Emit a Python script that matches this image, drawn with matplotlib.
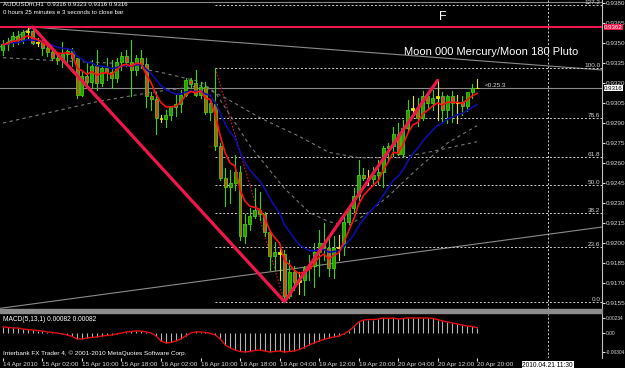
import numpy as np
import pandas as pd
import matplotlib
matplotlib.use("Agg")
import matplotlib.pyplot as plt
from matplotlib.patches import Rectangle

plt.rcParams["font.family"] = ["Liberation Sans", "DejaVu Sans"]

# AUDUSDm H1, one bar per hour from 14 Apr 18:00 to 20 Apr 20:00
# prices in pips: 9316 -> 0.9316
opens = [9345, 9349, 9351, 9355, 9352, 9358, 9359, 9350, 9351, 9346,
         9343, 9339, 9337, 9342, 9344, 9339, 9311, 9325, 9321, 9333,
         9320, 9331, 9328, 9324, 9336, 9340, 9336, 9330, 9339, 9334,
         9310, 9308, 9294, 9293, 9296, 9302, 9304, 9311, 9322, 9320,
         9311, 9317, 9298, 9304, 9273, 9249, 9242, 9245, 9253, 9205,
         9214, 9220, 9225, 9222, 9208, 9190, 9193, 9192, 9160, 9178,
         9171, 9172, 9181, 9183, 9193, 9200, 9196, 9181, 9196, 9197,
         9216, 9226, 9235, 9251, 9249, 9248, 9251, 9253, 9271, 9273,
         9282, 9267, 9286, 9300, 9301, 9294, 9310, 9305, 9309, 9310,
         9300, 9310, 9305, 9306, 9303, 9313, 9316]
highs = [9352, 9354, 9358, 9359, 9360, 9361, 9362, 9354, 9352, 9349,
         9346, 9343, 9351, 9346, 9346, 9339, 9328, 9336, 9337, 9345,
         9333, 9339, 9337, 9339, 9343, 9345, 9352, 9341, 9345, 9339,
         9313, 9313, 9296, 9300, 9303, 9311, 9315, 9324, 9324, 9330,
         9321, 9321, 9307, 9331, 9275, 9256, 9255, 9266, 9258, 9222,
         9226, 9241, 9238, 9223, 9210, 9201, 9197, 9195, 9187, 9183,
         9178, 9183, 9191, 9200, 9210, 9215, 9204, 9205, 9206, 9221,
         9228, 9241, 9262, 9256, 9255, 9257, 9262, 9273, 9275, 9287,
         9290, 9292, 9307, 9310, 9309, 9314, 9313, 9315, 9322, 9313,
         9311, 9314, 9311, 9310, 9311, 9319, 9323]
lows = [9341, 9345, 9348, 9349, 9350, 9354, 9349, 9348, 9341, 9340,
        9337, 9334, 9332, 9336, 9333, 9309, 9310, 9319, 9316, 9315,
        9318, 9322, 9316, 9321, 9330, 9333, 9310, 9326, 9331, 9302,
        9300, 9282, 9291, 9287, 9292, 9295, 9298, 9310, 9316, 9310,
        9309, 9297, 9292, 9270, 9247, 9228, 9230, 9240, 9202, 9200,
        9210, 9219, 9217, 9205, 9180, 9180, 9172, 9156, 9159, 9165,
        9162, 9161, 9172, 9167, 9175, 9187, 9175, 9174, 9187, 9191,
        9214, 9223, 9232, 9247, 9244, 9244, 9244, 9242, 9262, 9265,
        9266, 9265, 9285, 9295, 9288, 9292, 9301, 9300, 9292, 9291,
        9290, 9291, 9290, 9296, 9299, 9309, 9316]
closes = [9349, 9351, 9355, 9352, 9358, 9359, 9350, 9351, 9346, 9343,
          9339, 9337, 9342, 9344, 9339, 9311, 9325, 9321, 9333, 9320,
          9331, 9328, 9324, 9336, 9340, 9336, 9330, 9339, 9334, 9310,
          9308, 9294, 9293, 9296, 9302, 9304, 9311, 9322, 9319, 9311,
          9317, 9298, 9305, 9273, 9249, 9242, 9245, 9253, 9205, 9214,
          9220, 9225, 9222, 9208, 9190, 9193, 9192, 9160, 9178, 9171,
          9172, 9181, 9183, 9193, 9200, 9196, 9181, 9196, 9197, 9216,
          9226, 9235, 9251, 9249, 9248, 9251, 9253, 9271, 9273, 9282,
          9267, 9286, 9300, 9301, 9294, 9310, 9305, 9309, 9310, 9300,
          9310, 9305, 9306, 9303, 9313, 9316, 9316]

# MACD(5,13,1) main value per bar, in 1e-5
macd = [92, 84, 76, 76, 60, 52, 44, 36, 28, 13,
        5, -3, -19, -35, -58, -98, -98, -82, -74, -66,
        -51, -43, -35, -19, -3, 13, 21, 28, 28, 13,
        -3, -51, -130, -161, -153, -130, -98, -51, -3, 13,
        13, 5, -11, -35, -98, -193, -240, -272, -296, -304,
        -296, -280, -272, -288, -304, -296, -288, -304, -296, -288,
        -264, -233, -193, -161, -130, -106, -82, -66, -51, -19,
        28, 92, 171, 202, 210, 210, 218, 234, 226, 234,
        218, 226, 234, 234, 234, 234, 234, 226, 210, 187,
        171, 155, 139, 123, 107, 100, 82]

time_labels = ["14 Apr 2010", "15 Apr 02:00", "15 Apr 10:00", "15 Apr 18:00",
               "16 Apr 02:00", "16 Apr 10:00", "16 Apr 18:00", "19 Apr 04:00",
               "19 Apr 12:00", "19 Apr 20:00", "20 Apr 04:00", "20 Apr 12:00",
               "20 Apr 20:00"]

# the two long dashed moving averages, read at a few bars
ma_slow_bars = [0, 19, 30, 40, 45, 52, 60, 66, 72, 80, 86, 96]
ma_slow_vals = [9290, 9306, 9313, 9318, 9309, 9294, 9280, 9268, 9264, 9264, 9268, 9276]
ma_mid_bars = [0, 10, 22, 32, 40, 43, 50, 57, 62, 66, 70, 74, 78, 84, 90, 96]
ma_mid_vals = [9339, 9337, 9335, 9328, 9321, 9313, 9273, 9241, 9223, 9216, 9213,
               9223, 9235, 9256, 9275, 9288]

# zigzag pivots and fibo anchors
zz_bars = [6, 57, 88]
zz_vals = [9362, 9156, 9322]
fib_hi_bar, fib_hi = 43, 9331
fib_lo_bar, fib_lo = 57, 9156
fib_levels = [0.0, 23.6, 38.2, 50.0, 61.8, 78.6, 100.0, 127.2]

o = np.array(opens) / 1e4
h = np.array(highs) / 1e4
l = np.array(lows) / 1e4
c = np.array(closes) / 1e4
m = np.array(macd) / 1e5
bars = np.arange(len(c))

W, H = 625, 368
fig = plt.figure(figsize=(W / 100, H / 100), dpi=100, facecolor="black")
ax = fig.add_axes([0, (H - 309) / H, 602 / W, 309 / H], facecolor="black")
axm = fig.add_axes([0, (H - 358) / H, 602 / W, 44 / H], facecolor="black")
fig.patches.append(Rectangle((0, (H - 313) / H), 602 / W, 4 / H,
                             transform=fig.transFigure, color="#8c8c8c"))

x0, x1 = -0.6, 121.3
for a in (ax, axm):
    a.set_xlim(x0, x1)
    for s in ("top", "left", "bottom"):
        a.spines[s].set_visible(False)
    a.spines["right"].set_color("#c0c0c0")
    a.yaxis.tick_right()
    a.tick_params(colors="#d8d8d8", labelsize=4.6, length=2, pad=0.6)
ax.set_ylim(0.91505, 0.93823)
axm.set_ylim(-0.00399, 0.00297)

# trendlines, fibo, horizontal lines
ax.plot([6, x1], [0.9362, 0.93298], color="#8a8a8a", lw=0.8)
ax.plot([x0, 6], [0.9347, 0.9362], color="#8a8a8a", lw=0.8)
ax.plot([x0, x1], [0.9151, 0.9212], color="#8a8a8a", lw=0.8)
ax.axhline(0.9381, color="#8a8a8a", lw=0.8)
ax.axhline(0.9316, color="#8a8a8a", lw=0.8)
ax.axhline(0.9362, color="#f0164b", lw=1.5)

rng = (fib_hi - fib_lo) / 1e4
for lv in fib_levels:
    y = fib_lo / 1e4 + rng * lv / 100
    ax.plot([fib_hi_bar, x1], [y, y], color="#d0d0d0", lw=0.7, ls=(0, (2, 2)))
    ax.text(x1 - 0.3, y, "%.1f" % lv, color="#d0d0d0", fontsize=4.6,
            ha="right", va="bottom")
ax.plot([fib_hi_bar, fib_lo_bar], [fib_hi / 1e4, fib_lo / 1e4], color="#e01040",
        lw=0.8, ls=(0, (1.5, 1.5)))

for a in (ax, axm):
    a.axvline(110.3, color="#d0d0d0", lw=0.7, ls=(0, (2, 2)))

ax.plot(ma_slow_bars, np.array(ma_slow_vals) / 1e4, color="#777777", lw=0.8, ls=(0, (3, 3)))
ax.plot(ma_mid_bars, np.array(ma_mid_vals) / 1e4, color="#777777", lw=0.8, ls=(0, (3, 3)))

# candles
for i in bars:
    body = abs(c[i] - o[i])
    if body < 0.00015:
        edge, face = "#e8e800", "#e8e800"
    elif c[i] > o[i]:
        edge, face = "#3ad400", "#2f9a06"
    else:
        edge, face = "#3ad400", "#c8501e"
    ax.plot([i, i], [l[i], h[i]], color=edge, lw=0.8, zorder=3)
    ax.add_patch(Rectangle((i - 0.3, min(o[i], c[i])), 0.6, max(body, 0.00004),
                           facecolor=face, edgecolor=edge, lw=0.6, zorder=4))

ema_fast = pd.Series(c).ewm(span=5, adjust=False).mean()
ema_slow = pd.Series(c).ewm(span=13, adjust=False).mean()
ax.plot(bars, ema_slow, color="#0c0ca8", lw=1.2, zorder=5)
ax.plot(bars, ema_fast, color="#ff1010", lw=1.2, zorder=5)
ax.plot(zz_bars, np.array(zz_vals) / 1e4, color="#f0164b", lw=2.3, zorder=6,
        solid_capstyle="round")

ticks = [0.9155 + 0.0015 * k for k in range(16)]
ax.set_yticks(ticks)
ax.set_yticklabels(["%.4f" % t for t in ticks])
ax.set_xticks([])

ax.text(121.75, 0.9362, "0.9362", fontsize=4.4, color="white", va="center", ha="left",
        bbox=dict(facecolor="#f0164b", edgecolor="none", pad=0.3), clip_on=False, zorder=10)
ax.text(121.75, 0.9316, "0.9316", fontsize=4.4, color="black", va="center", ha="left",
        bbox=dict(facecolor="white", edgecolor="none", pad=0.3), clip_on=False, zorder=10)

ax.text(97.5, 0.93185, "<0.25.3", fontsize=4.6, color="#d8d8d8", va="center")
ax.text(88.2, 0.93695, "F", fontsize=9, color="white", va="center")
ax.text(81.3, 0.93435, "Moon 000 Mercury/Moon 180 Pluto", fontsize=8, color="white",
        va="center")
ax.text(0.005, 0.995, "AUDUSDm,H1  0.9316 0.9323 0.9316 0.9316", transform=ax.transAxes,
        fontsize=4.4, color="white", va="top")
ax.text(0.005, 0.967, "0 hours 25 minutes e 3 seconds to close bar", transform=ax.transAxes,
        fontsize=4.4, color="white", va="top")

# MACD sub-window
axm.vlines(bars, 0, m, color="#b4b4b4", lw=0.8)
axm.plot(bars, m, color="#e01010", lw=1.0)
axm.set_yticks([0.00234, 0.0, -0.00304])
axm.set_yticklabels(["0.00234", "0.00", "-0.00304"], fontsize=3.5)
axm.set_xticks(np.arange(0, 97, 8))
axm.set_xticklabels(time_labels, ha="left", fontsize=4.6)
axm.tick_params(axis="x", length=2, pad=1)
axm.text(0.005, 0.96, "MACD(5,13,1) 0.00082 0.00082", transform=axm.transAxes,
         fontsize=4.8, color="white", va="top")
axm.text(0.005, 0.05, "Interbank FX Trader 4, \u00a9 2001-2010 MetaQuotes Software Corp.",
         transform=axm.transAxes, fontsize=4.6, color="white", va="bottom")
axm.text(110.3, -0.09, "2010.04.21 11:30", transform=axm.get_xaxis_transform(),
         fontsize=4.8, color="black", ha="center", va="top",
         bbox=dict(facecolor="white", edgecolor="none", pad=0.5), clip_on=False)

fig.savefig("out.png", dpi=100, facecolor="black")
